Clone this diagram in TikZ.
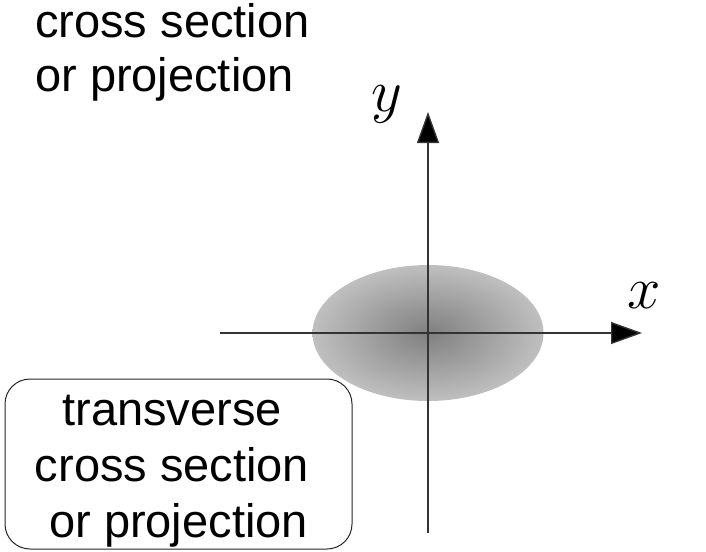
\RequirePackage{fix-cm}
\documentclass[tikz,border=0pt]{standalone}
\usepackage{fontspec}
\setmainfont{Liberation Sans}
\usetikzlibrary{arrows.meta}
\tikzset{
  axis/.style={draw=black!80, line width=1.4pt, -{Triangle[length=31pt,width=22pt,fill=black]}},
  labeltext/.style={font=\fontsize{47}{56}\selectfont, inner sep=0pt},
  toplabel/.style={font=\fontsize{47}{54}\selectfont, inner sep=0pt},
  mathlabel/.style={font=\fontsize{60}{60}\selectfont, inner sep=0pt},
  roundbox/.style={draw=black!85, line width=1pt, rounded corners=25pt, fill=white}
}
\begin{document}
\begin{tikzpicture}[x=1pt,y=-1pt]
\useasboundingbox (0,0) rectangle (706,551);
% shaded ellipse
\shade[inner color=black!50, outer color=black!25] (428,333) ellipse [x radius=115.5, y radius=68];
% box
\draw[roundbox] (5,379) rectangle (352,549);
\node[labeltext, align=center, anchor=base] (boxtext) at (172,537) {transverse\\cross section\\\hspace*{0.28em}or projection};
% top text
\node[toplabel, align=left, anchor=base west] (toptext) at (35,91) {cross section\\or projection};
% axes
\coordinate (ybot) at (428,533);
\coordinate (ytop) at (428,112);
\coordinate (xleft) at (220,333);
\coordinate (xright) at (642,333);
\draw[axis] (ybot) -- (ytop);
\draw[axis] (xleft) -- (xright);
\node[mathlabel] (ylab) at (387,104) {$y$};
\node[mathlabel] (xlab) at (644,296) {$x$};
\end{tikzpicture}
\end{document}
